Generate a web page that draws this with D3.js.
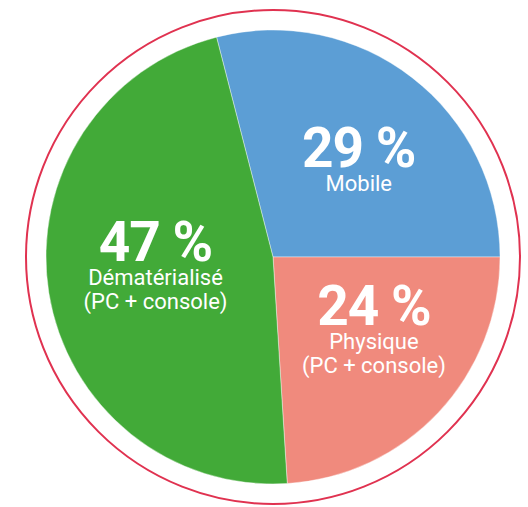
<!DOCTYPE html>
<html>
<head>
<meta charset="utf-8">
<script src="https://cdn.jsdelivr.net/npm/d3@7"></script>
<style>
  html, body { margin: 0; padding: 0; background: #fff; }
  text { font-family: Roboto, "Noto Sans", sans-serif; fill: #fff; }
</style>
</head>
<body>
<script>
const width = 528; //Size of the window.
const height = 507;

// Data.
const categories = ["Mobile", "Physique", "Dématérialisé"];
const shares = [29, 24, 47];
const subLabels = [["Mobile"], ["Physique", "(PC + console)"], ["Dématérialisé", "(PC + console)"]];
const colors = ["#5c9ed5", "#f08a7d", "#42aa38"];

const cx = 273, cy = 257; //Centre of pie.
const radius = 227;
const ringRadius = 247;
const startDeg = -14.4; //Mobile starts a bit left of the top.

// Small nudges so labels sit where they do in the original.
const labelNudge = {
  "Mobile": [11, 6],
  "Physique": [12, -16],
  "Dématérialisé": [3, -15]
};

const svg = d3.select("body")
  .append("svg")
  .attr("width", width)
  .attr("height", height);

const g = svg.append("g")
  .attr("transform", "translate(" + cx + "," + cy + ")");

g.append("circle") //Red outer ring.
  .attr("r", ringRadius)
  .attr("fill", "none")
  .attr("stroke", "#e03250")
  .attr("stroke-width", 2);

const start = startDeg * Math.PI / 180;
const pie = d3.pie()
  .sort(null)
  .value(function(d) { return d; })
  .startAngle(start)
  .endAngle(start + 2 * Math.PI);

const arcs = pie(shares);

const arc = d3.arc().innerRadius(0).outerRadius(radius);
const labelArc = d3.arc().innerRadius(122).outerRadius(122);

g.selectAll("path.slice")
  .data(arcs)
  .enter()
  .append("path")
  .attr("class", "slice")
  .attr("d", arc)
  .attr("fill", function(d, i) { return colors[i]; })
  .attr("stroke", "#fff")
  .attr("stroke-width", 0.4);

const labels = g.selectAll("g.label")
  .data(arcs)
  .enter()
  .append("g")
  .attr("class", "label")
  .attr("transform", function(d, i) {
    const c = labelArc.centroid(d);
    const n = labelNudge[categories[i]];
    return "translate(" + (c[0] + n[0]) + "," + (c[1] + n[1]) + ")";
  });

labels.append("text") //Big percentage.
  .attr("text-anchor", "middle")
  .attr("font-size", 55)
  .attr("font-weight", 700)
  .attr("letter-spacing", -1)
  .text(function(d) { return d.data + " %"; });

labels.each(function(d, i) {
  const sel = d3.select(this);
  subLabels[i].forEach(function(line, j) {
    sel.append("text")
      .attr("text-anchor", "middle")
      .attr("font-size", 22)
      .attr("y", 24 + j * 24)
      .text(line);
  });
});
</script>
</body>
</html>
